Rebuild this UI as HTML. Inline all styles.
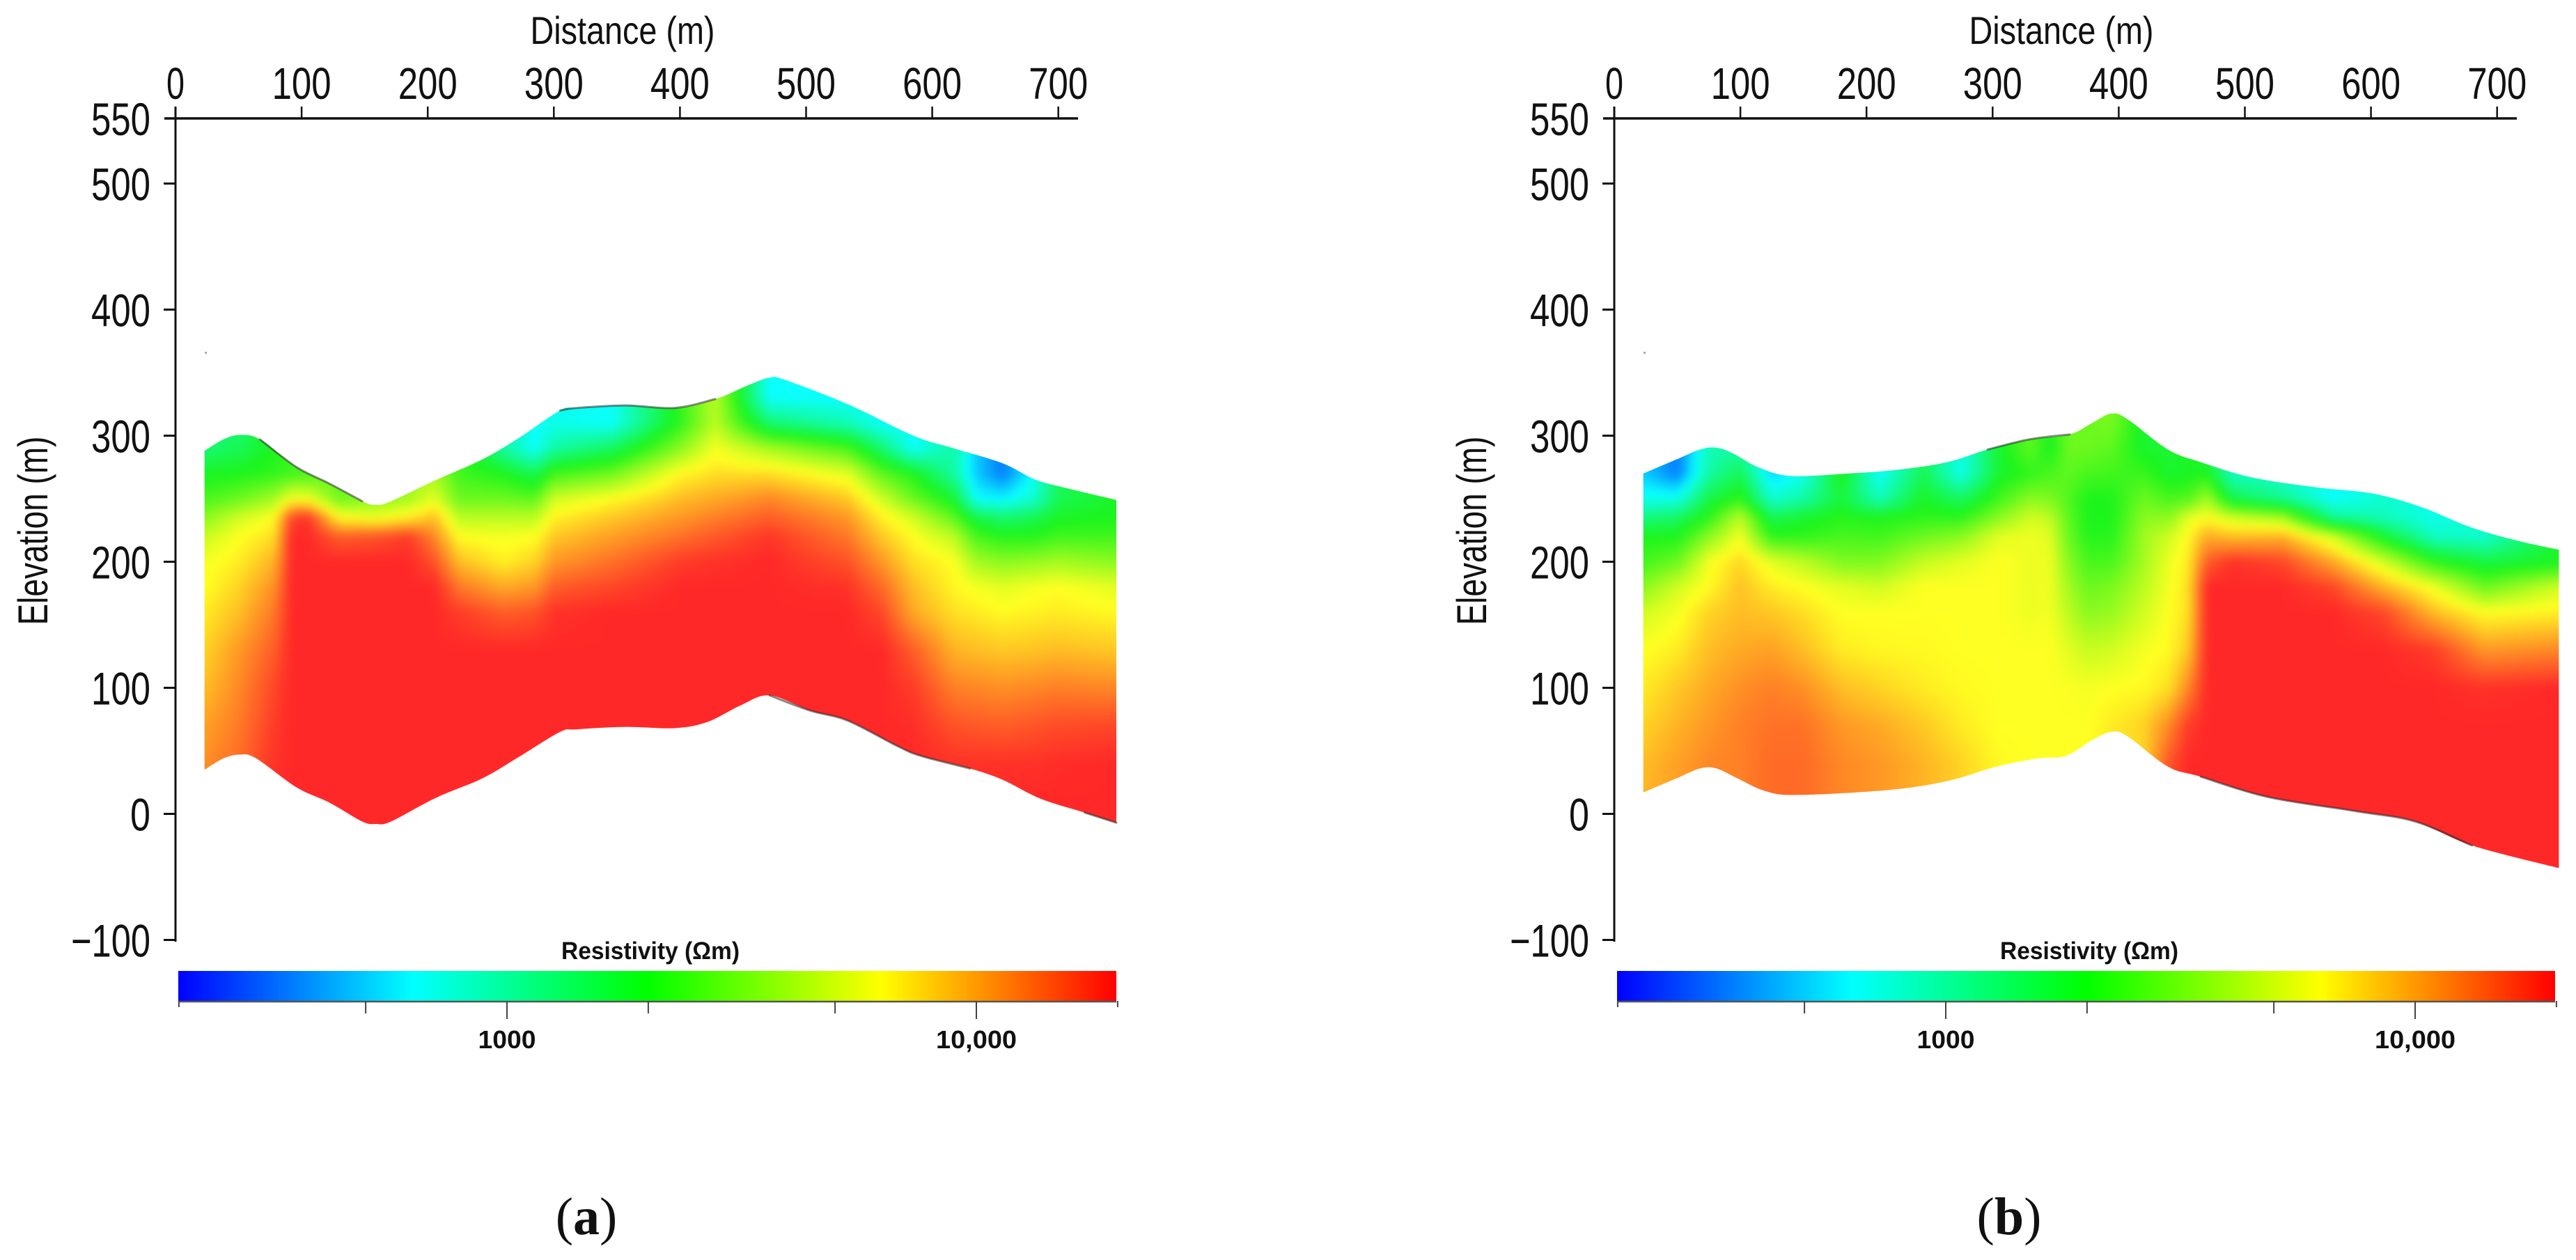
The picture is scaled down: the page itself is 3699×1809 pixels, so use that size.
<!DOCTYPE html>
<html lang="en">
<head>
<meta charset="utf-8">
<title>Resistivity sections</title>
<style>
html,body{margin:0;padding:0;background:#fff;width:3699px;height:1809px;overflow:hidden}
svg{display:block}
text{font-family:"Liberation Sans",sans-serif;fill:#111}
</style>
</head>
<body>
<svg id="chart" xmlns="http://www.w3.org/2000/svg" width="3699" height="1809" viewBox="0 0 3699 1809">
  <rect x="0" y="0" width="3699" height="1809" fill="#fff"/>
  <defs>
    <linearGradient id="colorbar-gradient" x1="0" x2="1" y1="0" y2="0"></linearGradient>
    <filter id="field-soften" filterUnits="userSpaceOnUse" x="0" y="0" width="3699" height="1809" color-interpolation-filters="sRGB">
      <feGaussianBlur stdDeviation="6"/>
    </filter>
  </defs>
</svg>
<script>
// ---------- shared axis data ----------
const distanceTicks = [0, 100, 200, 300, 400, 500, 600, 700];
const elevationTicks = [550, 500, 400, 300, 200, 100, 0, -100];
const colorbarTicks = [200, 500, 1000, 2000, 5000, 10000, 20000];
const colorbarLabels = {1000: "1000", 10000: "10,000"};
const colorbarStopColors = ["#0000ff", "#00ffff", "#00ff00", "#ffff00", "#ff0000"];
const fieldStopColors = [[0,0,255],[10,255,255],[28,245,28],[255,255,34],[255,40,40]];
const elevationRows = [350,330,310,290,270,250,235,220,200,180,160,130,100,70,40,10,-10,-45];

// ---------- panel (a) ----------
const aSurfaceDistance = [23,38,51,67,96,122,148,159,171,207,243,272,305,318,357,396,428,454,471,484,533,585,617,656,682,708,746];
const aSurfaceElevation = [288,297,300.6,297,275,262,248,245,248,265,281,298,320,322,324,322,329,340,346,344,325,300,290,278,265,258,249];
const aBaseDistance = [23,38,51,64,96,122,148,159,171,207,243,272,305,318,357,396,422,448,471,503,533,572,591,630,656,686,721,746];
const aBaseElevation = [35,44,47,44,21,9,-6,-8,-6,13,28,45,65,67,69,68,73,86,94,82,74,54,46,36,27,12,1,-7];
const aSurfaceDarkRanges = [[60,155],[305,445]];
const aBaseDarkRanges = [[471,655],[690,746]];
const aColumns = [23,51,78,92,105,130,159,185,205,225,260,285,300,345,400,428,471,533,560,585,617,635,656,680,700,746];
// resistivity (ohm-m) per column, top row first; a short column stays at its last value downward
const aResistivity = [
 [1300,1300,1300,1300,1900,2500,3500,4800,6000,6300,7000,8000,9000,10500,11500,12000],
 [1200,1200,1300,1500,2000,3000,5000,6300,7000,8000,9000,11000,12000,13000,14000,14500],
 [2000,2000,2000,2000,2200,4000,6300,7500,9500,11500,13000,15000,17000,18000,19000,20000],
 [2200,2200,2200,2200,2400,6000,17000,20000],
 [2300,2300,2300,2300,2500,6000,19000,20000],
 [2600,2600,2600,2600,2800,3000,6500,15000,20000],
 [3000,3000,3000,3000,3000,3500,5800,16000,20000],
 [3500,3500,3500,3500,3500,4000,7000,18000,20000],
 [4000,4000,4000,4000,4000,5500,9000,12000,16000,20000],
 [2300,2300,2300,2300,2400,3000,4500,6300,9000,13000,18000,20000],
 [1000,1000,1000,1000,2000,3000,4500,6000,6800,10000,15000,20000],
 [640,640,640,640,1500,2800,4500,6300,8000,11000,16000,20000],
 [700,700,700,1000,2400,5000,6800,8500,11000,15000,19000,20000],
 [640,640,640,1400,3000,6300,8500,10500,13500,17000,20000],
 [2200,2200,2200,3500,6500,9000,11000,13500,18000,20000],
 [4500,4500,4500,6000,7500,10000,12500,15500,19000,20000],
 [640,640,1300,4000,7500,12000,15000,18500,20000],
 [640,640,900,2500,5500,8500,11000,13000,16000,19000,20000],
 [640,640,640,1300,2800,5000,6800,8500,11000,14000,17000,20000],
 [640,640,640,640,2000,3000,5000,6300,7500,9000,10000,15000,18000,19500,20000],
 [1000,1000,1000,1000,1000,1800,2800,4500,6300,6600,7500,9500,12500,16000,19000,20000],
 [500,500,500,500,500,640,1600,2500,4000,6000,7000,9000,12000,15500,19000,20000],
 [350,350,350,350,350,600,1300,2100,3500,5500,6500,8500,11500,15000,19000,20000],
 [640,640,640,640,640,800,1500,2100,3700,6000,6800,8700,12000,15800,19000,20000],
 [1500,1500,1500,1500,1500,1500,1900,2400,4000,6300,7000,9000,12500,16500,19500,20000],
 [1900,1900,1900,1900,1900,1900,2000,2400,3500,5500,6500,8500,12000,17000,20000]
];

// ---------- panel (b) ----------
const bSurfaceDistance = [23,49,68,81,94,114,140,186,225,264,296,329,361,378,394,407,439,465,505,557,602,641,680,719,749];
const bSurfaceElevation = [270,281,289,290.5,286,275,268,270,273,279,289,297,301,309.5,317.5,313,289,279,267,259,254,243,227,216,209.5];
const bBaseDistance = [23,49,68,81,98,120,146,218,264,303,335,358,378,394,407,439,465,518,589,635,680,749];
const bBaseElevation = [17,28,36,36,28,18,15,19,26,37.5,44,46,58,65,61.5,37.5,29.5,13.5,2,-6,-25,-43];
const bSurfaceDarkRanges = [[120,150],[290,362]];
const bBaseDarkRanges = [[465,720]];
const bColumns = [23,50,75,100,125,150,180,210,245,275,305,330,345,360,375,394,420,440,455,470,490,530,570,610,650,690,749];
const bResistivity = [
 [500,500,500,500,500,700,1200,2000,2400,3500,5000,6300,7000,8000,9000,9500],
 [350,350,350,350,350,700,1400,2000,3000,5000,6000,7000,8500,9500,10500],
 [900,900,900,900,1000,1600,2200,3500,6000,6500,8000,9000,10000,11000,12000],
 [1000,1000,1000,1000,1500,2200,4500,6000,7800,8800,9000,10000,11500,12500,12500],
 [520,520,520,520,520,800,1500,2200,5500,7000,8500,10500,12500,13500,14000],
 [700,700,700,700,700,1000,1800,2200,4500,6300,7500,9000,11500,13500,14000],
 [2000,2000,2000,2000,2000,1700,2100,2500,3300,5500,6300,7000,9000,11000,12000],
 [640,640,640,640,640,900,2000,2400,3300,5000,6300,6600,8000,10000,11000],
 [1500,1500,1500,1500,1500,1900,2200,3000,4700,6300,6300,6500,7000,8500,9500],
 [700,700,700,700,700,1400,2200,3500,5500,6300,6300,6300,6500,7000,8000],
 [1800,1800,1800,1800,1800,2400,3500,5500,6300,6300,6300,6300,6300,6300,6500],
 [2800,2800,2800,2800,2200,3500,5000,5800,5800,5800,5800,6300,6300,6300,6300],
 [1900,1900,1900,1900,2500,3300,4600,5500,5800,5900,6000,6300,6300,6300,6300],
 [3000,3000,3000,3000,2800,2600,2800,3000,3500,4000,4500,5500,6200,6300,6300],
 [3000,3000,3000,3000,2500,2000,2000,2100,2500,3000,3500,4800,6000,6300,6300],
 [3200,3200,3200,2800,2400,2000,2000,2100,2500,3200,3700,5000,6300,7000,7000],
 [1800,1800,1800,1800,2300,3000,3500,3900,4000,4500,5000,6000,6500,8000,8000],
 [1800,1800,1800,1800,1800,2500,3500,5000,5800,6000,6300,6500,7500,12000,16000],
 [1900,1900,1900,1900,1900,2600,5500,6500,7000,7500,7500,8500,12000,18000,20000],
 [1600,1600,1600,1600,2000,4000,6300,10000,15000,20000],
 [850,850,850,850,850,1600,5000,9000,19000,20000],
 [800,800,800,800,800,1100,4000,9500,17000,20000],
 [640,640,640,640,640,640,1100,5000,10000,17000,20000],
 [800,800,800,800,800,800,900,1800,5000,9500,17000,20000],
 [700,700,700,700,700,700,700,850,2200,5800,9000,18000,20000],
 [800,800,800,800,800,800,800,800,1600,3000,6300,11000,19000,20000],
 [1900,1900,1900,1900,1900,1900,1900,1900,1900,5000,6800,12000,20000]
];

// ---------- helpers ----------
const NS = "http://www.w3.org/2000/svg";
const svg = document.getElementById("chart");
function make(tag, parent, attrs, text) {
  const el = document.createElementNS(NS, tag);
  for (const k in attrs) el.setAttribute(k, attrs[k]);
  if (text !== undefined) el.textContent = text;
  parent.appendChild(el);
  return el;
}
function interp(xs, ys, x) {
  if (x <= xs[0]) return ys[0];
  for (let i = 1; i < xs.length; i++) {
    if (x <= xs[i]) return ys[i-1] + (ys[i]-ys[i-1]) * (x-xs[i-1]) / (xs[i]-xs[i-1]);
  }
  return ys[ys.length-1];
}
function bracket(xs, x) {
  if (x <= xs[0]) return [0, 0, 0];
  for (let i = 1; i < xs.length; i++) {
    if (x <= xs[i]) return [i-1, i, (x-xs[i-1]) / (xs[i]-xs[i-1])];
  }
  return [xs.length-1, xs.length-1, 0];
}
function cellValue(col, r) { return r < col.length ? col[r] : col[col.length-1]; }
function resistivityColor(v) {
  const t = Math.max(0, Math.min(1, Math.log(v/200) / Math.log(100))) * 4;
  const i = Math.min(3, Math.floor(t)), f = t - i;
  const a = fieldStopColors[i], b = fieldStopColors[i+1];
  return "rgb(" + Math.round(a[0]+(b[0]-a[0])*f) + "," + Math.round(a[1]+(b[1]-a[1])*f) + "," + Math.round(a[2]+(b[2]-a[2])*f) + ")";
}
function smoothPath(pts, move) {
  let d = (move ? "M" : "L") + pts[0][0].toFixed(1) + " " + pts[0][1].toFixed(1);
  for (let i = 0; i < pts.length-1; i++) {
    const p0 = pts[Math.max(0,i-1)], p1 = pts[i], p2 = pts[i+1], p3 = pts[Math.min(pts.length-1,i+2)];
    const c1x = p1[0]+(p2[0]-p0[0])/6, c1y = p1[1]+(p2[1]-p0[1])/6;
    const c2x = p2[0]-(p3[0]-p1[0])/6, c2y = p2[1]-(p3[1]-p1[1])/6;
    d += "C" + c1x.toFixed(1) + " " + c1y.toFixed(1) + " " + c2x.toFixed(1) + " " + c2y.toFixed(1) + " " + p2[0].toFixed(1) + " " + p2[1].toFixed(1);
  }
  return d;
}

// shared colorbar gradient
const grad = document.getElementById("colorbar-gradient");
colorbarStopColors.forEach(function (c, i) {
  make("stop", grad, {offset: (i / (colorbarStopColors.length-1) * 100) + "%", "stop-color": c});
});

// ---------- panel drawing ----------
function drawPanel(id, offset, surfD, surfE, baseD, baseE, cols, matrix, surfDark, baseDark, caption, captionX) {
  const xScale = function (d) { return offset + 252 + 1.811 * d; };
  const yScale = function (e) { return 1168.5 - 1.81 * e; };
  const barScale = function (v) { return offset + 728 + 674 * Math.log10(v / 1000); };

  const panel = make("g", svg, {});
  
  

  // clip from terrain
  const top = surfD.map(function (d, i) { return [xScale(d), yScale(surfE[i])]; });
  const bot = baseD.map(function (d, i) { return [xScale(d), yScale(baseE[i])]; });
  const clipD = smoothPath(top, true) + smoothPath(bot.slice().reverse(), false) + "Z";
  const defs = svg.querySelector("defs");
  const clip = make("clipPath", defs, {id: "terrain-" + id});
  make("path", clip, {d: clipD});

  // heatmap cells
  const field = make("g", panel, {"clip-path": "url(#terrain-" + id + ")", filter: "url(#field-soften)"});
  
  
  const step = 5;
  const margin = 30;
  const xStart = Math.floor(xScale(surfD[0])) - margin;
  const xEnd = Math.ceil(xScale(surfD[surfD.length-1])) + margin;
  for (let px = xStart; px < xEnd; px += step) {
    const d = (px + step/2 - offset - 252) / 1.811;
    const yTop = yScale(interp(surfD, surfE, d)) - margin;
    const yBot = yScale(interp(baseD, baseE, d)) + margin;
    const cb = bracket(cols, d);
    for (let py = Math.floor(yTop/step)*step; py < yBot; py += step) {
      const e = Math.max(-45, Math.min(350, (1168.5 - (py + step/2)) / 1.81));
      let r0 = 0, r1 = 0, rf = 0;
      for (let r = 0; r < elevationRows.length-1; r++) {
        if (e <= elevationRows[r] && e >= elevationRows[r+1]) {
          r0 = r; r1 = r+1; rf = (elevationRows[r]-e) / (elevationRows[r]-elevationRows[r+1]);
          break;
        }
      }
      const c0 = matrix[cb[0]], c1 = matrix[cb[1]];
      const v0 = Math.log(cellValue(c0,r0))*(1-rf) + Math.log(cellValue(c0,r1))*rf;
      const v1 = Math.log(cellValue(c1,r0))*(1-rf) + Math.log(cellValue(c1,r1))*rf;
      const v = Math.exp(v0*(1-cb[2]) + v1*cb[2]);
      const cell = make("rect", field, {x: px, y: py, width: step+0.5, height: step+0.5, fill: resistivityColor(v)});
      
      
    }
  }

  // darker stretches of the terrain outline
  surfDark.forEach(function (range) {
    const seg = top.filter(function (p, i) { return surfD[i] >= range[0] && surfD[i] <= range[1]; });
    const line = make("path", panel, {d: smoothPath(seg, true), fill: "none", stroke: "#2a2a2a", "stroke-width": 3, "stroke-opacity": 0.55, "stroke-linecap": "round"});
    
    
  });
  baseDark.forEach(function (range) {
    const seg = bot.filter(function (p, i) { return baseD[i] >= range[0] && baseD[i] <= range[1]; });
    const line = make("path", panel, {d: smoothPath(seg, true), fill: "none", stroke: "#2a2a2a", "stroke-width": 3, "stroke-opacity": 0.55, "stroke-linecap": "round"});
    
    
  });

  // stray mark from the original plot
  const speck = make("rect", panel, {x: offset+294, y: 505, width: 3, height: 3, fill: "#aaa"});
  
  

  // axes
  const axisTop = make("line", panel, {x1: offset+236, x2: offset+1548, y1: 170, y2: 170, stroke: "#111", "stroke-width": 3.5});
  
  
  const axisLeft = make("line", panel, {x1: offset+252, x2: offset+252, y1: 153, y2: 1352, stroke: "#111", "stroke-width": 3});
  
  

  distanceTicks.forEach(function (t) {
    const tick = make("line", panel, {x1: xScale(t), x2: xScale(t), y1: 153, y2: 170, stroke: "#111", "stroke-width": 2.5});
    
    
    const w = String(t).length === 1 ? 26 : 85;
    const label = make("text", panel, {x: xScale(t), y: 142, "font-size": 64, "text-anchor": "middle", textLength: w, lengthAdjust: "spacingAndGlyphs"}, String(t));
    
    
  });

  elevationTicks.forEach(function (t) {
    const py = t === 550 ? 170 : yScale(t);
    if (t !== 550) {
      const tick = make("line", panel, {x1: offset+235, x2: offset+252, y1: py, y2: py, stroke: "#111", "stroke-width": 3});
      
      
    }
    const s = t < 0 ? "\u2212" + Math.abs(t) : String(t);
    const w = t < 0 ? 114 : (t === 0 ? 29 : 85);
    const label = make("text", panel, {x: offset+216, y: py+24, "font-size": 66, "text-anchor": "end", textLength: w, lengthAdjust: "spacingAndGlyphs"}, s);
    
    
  });

  const xTitle = make("text", panel, {x: offset+894, y: 63, "font-size": 56, "text-anchor": "middle", textLength: 265, lengthAdjust: "spacingAndGlyphs"}, "Distance (m)");
  
  
  const yTitle = make("text", panel, {x: 0, y: 0, "font-size": 60, "text-anchor": "middle", textLength: 271, lengthAdjust: "spacingAndGlyphs", transform: "translate(" + (offset+68) + " 762) rotate(-90)"}, "Elevation (m)");
  
  

  // colorbar
  const barTitle = make("text", panel, {x: offset+934, y: 1377, "font-size": 35, "font-weight": "bold", "text-anchor": "middle", textLength: 256, lengthAdjust: "spacingAndGlyphs"}, "Resistivity  (\u03A9m)");
  
  
  const bar = make("rect", panel, {x: offset+256, y: 1394, width: 1347, height: 43, fill: "url(#colorbar-gradient)"});
  
  
  const barEdge = make("line", panel, {x1: offset+256, x2: offset+1603, y1: 1438, y2: 1438, stroke: "#555", "stroke-width": 2.5});
  
  
  colorbarTicks.forEach(function (v) {
    const labelled = colorbarLabels[v] !== undefined;
    const isEnd = v === colorbarTicks[0] || v === colorbarTicks[colorbarTicks.length-1];
    const tick = make("line", panel, {x1: barScale(v), x2: barScale(v), y1: 1437, y2: labelled ? 1463 : (isEnd ? 1446 : 1455), stroke: "#444", "stroke-width": 2});
    
    
    if (labelled) {
      const label = make("text", panel, {x: barScale(v), y: 1505, "font-size": 36, "font-weight": "bold", "text-anchor": "middle", textLength: v === 1000 ? 83 : 116, lengthAdjust: "spacingAndGlyphs"}, colorbarLabels[v]);
      
      
    }
  });

  // caption
  const cap = make("text", panel, {x: captionX, y: 1772, "font-size": 76, "text-anchor": "middle"});
  
  
  cap.style.fontFamily = '"Liberation Serif", serif';
  make("tspan", cap, {}, "(");
  make("tspan", cap, {"font-weight": "bold"}, caption);
  make("tspan", cap, {}, ")");
}

drawPanel("a", 0, aSurfaceDistance, aSurfaceElevation, aBaseDistance, aBaseElevation, aColumns, aResistivity, aSurfaceDarkRanges, aBaseDarkRanges, "a", 842);
drawPanel("b", 2066, bSurfaceDistance, bSurfaceElevation, bBaseDistance, bBaseElevation, bColumns, bResistivity, bSurfaceDarkRanges, bBaseDarkRanges, "b", 2885);
</script>
</body>
</html>
